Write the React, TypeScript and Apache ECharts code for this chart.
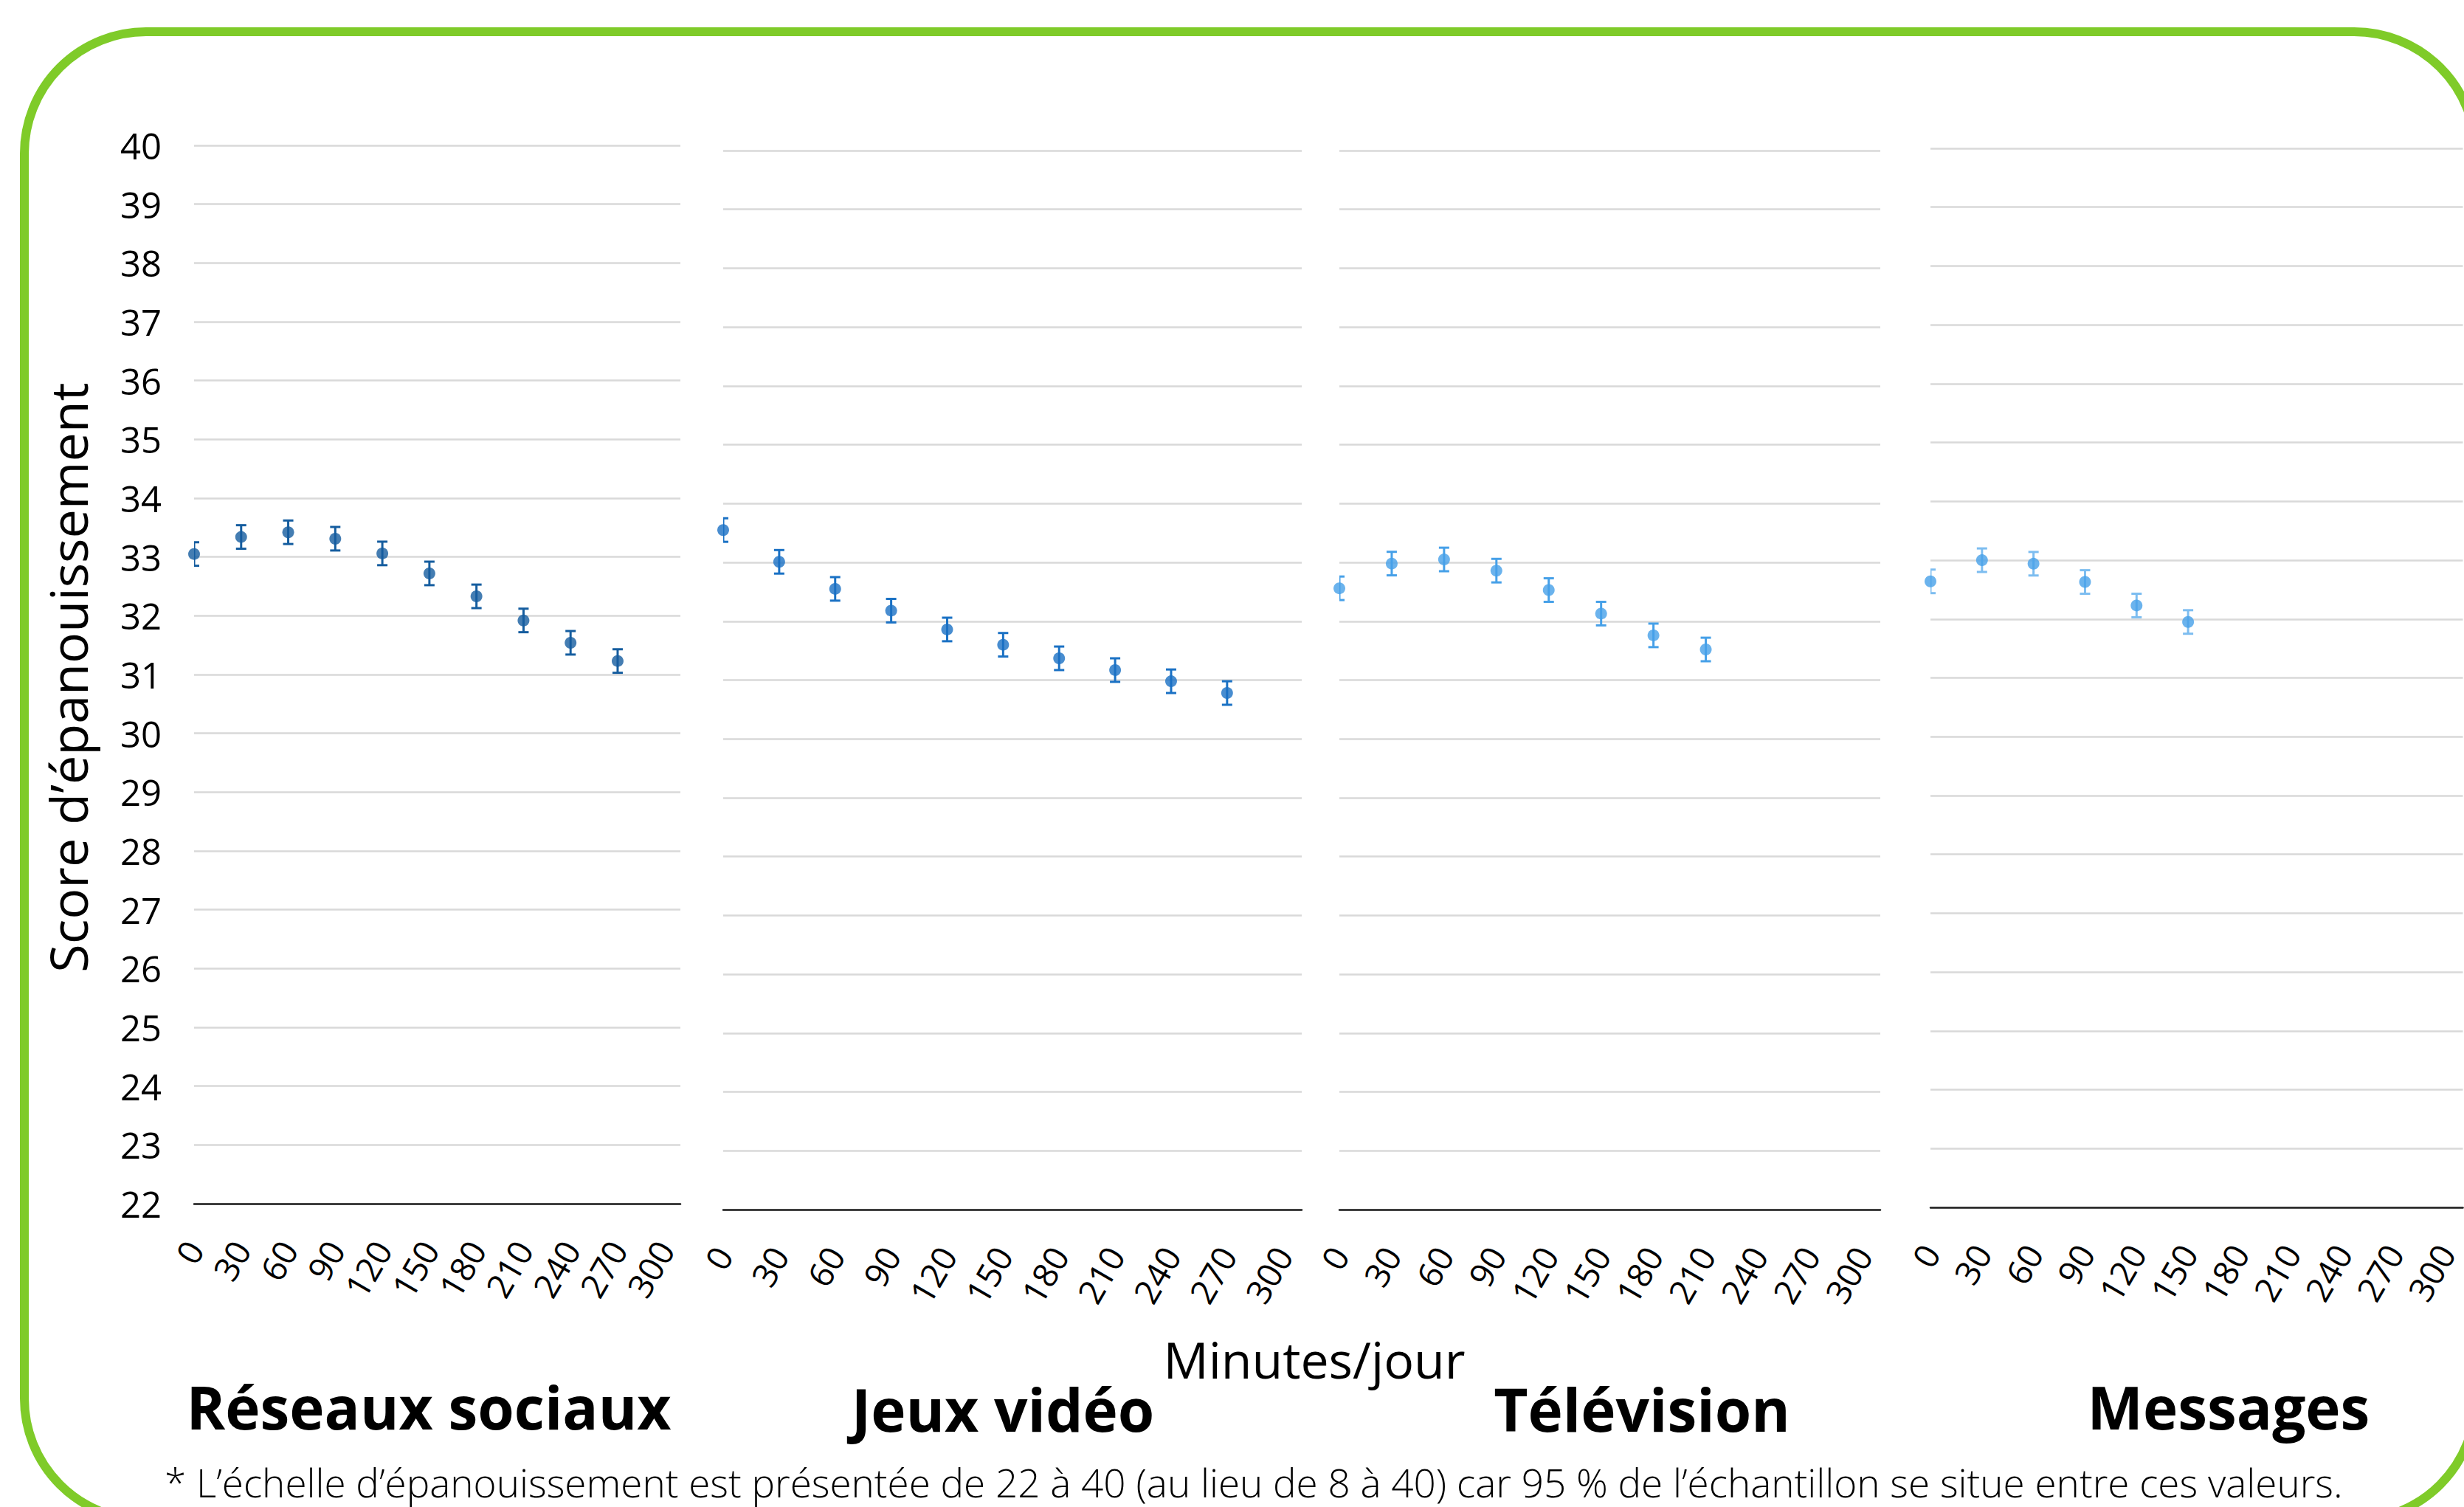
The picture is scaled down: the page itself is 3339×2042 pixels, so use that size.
import React, { useEffect, useRef } from "react";
import * as echarts from "echarts";

// ---- Data ----
const minutes = [0, 30, 60, 90, 120, 150, 180, 210, 240, 270, 300];
const scoreMin = 22;
const scoreMax = 40;
const reseauxSociaux = [33.05, 33.34, 33.42, 33.31, 33.06, 32.72, 32.33, 31.92, 31.54, 31.23];
const reseauxErr = [0.2, 0.2, 0.2, 0.2, 0.2, 0.2, 0.2, 0.2, 0.2, 0.2];
const jeuxVideo = [33.55, 33.01, 32.55, 32.18, 31.86, 31.6, 31.37, 31.17, 30.98, 30.78];
const jeuxErr = [0.2, 0.2, 0.2, 0.2, 0.2, 0.2, 0.2, 0.2, 0.2, 0.2];
const television = [32.56, 32.98, 33.05, 32.86, 32.53, 32.13, 31.76, 31.52];
const televisionErr = [0.2, 0.2, 0.2, 0.2, 0.2, 0.2, 0.2, 0.2];
const messages = [32.64, 33.0, 32.94, 32.63, 32.23, 31.95];
const messagesErr = [0.2, 0.2, 0.2, 0.2, 0.2, 0.2];
const panelTitles = ["Réseaux sociaux", "Jeux vidéo", "Télévision", "Messages"];
const yAxisTitle = "Score d’épanouissement";
const xAxisTitle = "Minutes/jour";
const footnote =
  "* L’échelle d’épanouissement est présentée de 22 à 40 (au lieu de 8 à 40) car 95 % de l’échantillon se situe entre ces valeurs.";

// ---- Layout / style ----
const FONT = "'Open Sans', 'Noto Sans', sans-serif";
const grids = [
  { left: 263, top: 197, width: 659, height: 1434 },
  { left: 980, top: 204, width: 784, height: 1435 },
  { left: 1815, top: 204, width: 733, height: 1435 },
  { left: 2616, top: 201, width: 722, height: 1435 },
];
const markerColors = ["#155d9f", "#1a71c4", "#46a0e8", "#46a0e8"];
const barColors = ["#155d9f", "#1a71c4", "#46a0e8", "#7dbdf0"];
const titleCenters = [581, 1359, 2225, 3020];

const seriesValues = [reseauxSociaux, jeuxVideo, television, messages];
const seriesErrs = [reseauxErr, jeuxErr, televisionErr, messagesErr];

export default function App() {
  const ref = useRef<HTMLDivElement>(null);
  useEffect(() => {
    document.body.style.margin = "0";
    document.body.style.overflow = "hidden";
    const chart = echarts.init(ref.current!, undefined, { renderer: "svg" });

    const xAxes = grids.map((_, i) => ({
      type: "value",
      gridIndex: i,
      min: 0,
      max: 310,
      interval: 30,
      axisLine: { show: true, lineStyle: { color: "#1e1e1e", width: 2.5 } },
      axisTick: { show: false },
      splitLine: { show: false },
      axisLabel: {
        rotate: 60,
        margin: 54,
        fontSize: 46,
        color: "#000",
        fontFamily: FONT,
        formatter: (v: number) => (minutes.indexOf(v) >= 0 ? String(v) : ""),
      },
    }));
    const yAxes = grids.map((_, i) => ({
      type: "value",
      gridIndex: i,
      min: scoreMin,
      max: scoreMax,
      interval: 1,
      axisLine: { show: false },
      axisTick: { show: false },
      splitLine: { show: true, lineStyle: { color: "#d9d9d9", width: 2.5 } },
      axisLabel: {
        show: i === 0,
        margin: 44,
        fontSize: 49,
        color: "#000",
        fontFamily: FONT,
      },
    }));

    const series: any[] = [];
    seriesValues.forEach((vals, i) => {
      const data = vals.map((v, j) => [minutes[j], v, seriesErrs[i][j]]);
      series.push({
        type: "custom",
        xAxisIndex: i,
        yAxisIndex: i,
        clip: true,
        encode: { x: 0, y: 1 },
        data,
        z: 2,
        renderItem: (params: any, api: any) => {
          const x = api.value(0);
          const y = api.value(1);
          const e = api.value(2);
          const t = api.coord([x, y + e]);
          const b = api.coord([x, y - e]);
          const hw = 7;
          const style = { stroke: barColors[i], lineWidth: 3 };
          return {
            type: "group",
            children: [
              { type: "line", shape: { x1: t[0], y1: t[1], x2: b[0], y2: b[1] }, style },
              { type: "line", shape: { x1: t[0] - hw, y1: t[1], x2: t[0] + hw, y2: t[1] }, style },
              { type: "line", shape: { x1: b[0] - hw, y1: b[1], x2: b[0] + hw, y2: b[1] }, style },
            ],
          };
        },
      });
      series.push({
        type: "scatter",
        xAxisIndex: i,
        yAxisIndex: i,
        symbol: "circle",
        symbolSize: 16,
        clip: false,
        z: 3,
        itemStyle: { color: markerColors[i] },
        data: vals.map((v, j) => [minutes[j], v]),
      });
    });

    const textEl = (
      text: string,
      x: number,
      y: number,
      fontSize: number,
      fontWeight: any,
      align: string,
      rotation = 0
    ) => ({
      type: "text",
      x,
      y,
      rotation,
      silent: true,
      style: {
        text,
        x: 0,
        y: 0,
        fill: "#000",
        fontSize,
        fontWeight,
        fontFamily: FONT,
        align,
        verticalAlign: "middle",
        textAlign: align,
        textVerticalAlign: "middle",
      },
    });

    const graphic: any[] = [
      {
        type: "rect",
        shape: { x: 33, y: 43, width: 3322, height: 2017, r: 165 },
        style: { fill: "none", stroke: "#7fcb29", lineWidth: 12 },
        silent: true,
      },
      textEl(yAxisTitle, 92, 918, 70, 400, "center", Math.PI / 2),
      textEl(xAxisTitle, 1781, 1841, 68, 400, "center"),
      textEl(footnote, 223, 2008, 53, 300, "left"),
    ];
    panelTitles.forEach((t, i) => {
      graphic.push(textEl(t, titleCenters[i], i === 1 || i === 2 ? 1908 : 1905, 80, 700, "center"));
    });

    chart.setOption({
      animation: false,
      backgroundColor: "#ffffff",
      textStyle: { fontFamily: FONT },
      grid: grids.map((g) => ({ ...g, containLabel: false })),
      xAxis: xAxes,
      yAxis: yAxes,
      series,
      graphic,
    });
    return () => chart.dispose();
  }, []);
  return <div ref={ref} style={{ width: 3339, height: 2042 }} />;
}
